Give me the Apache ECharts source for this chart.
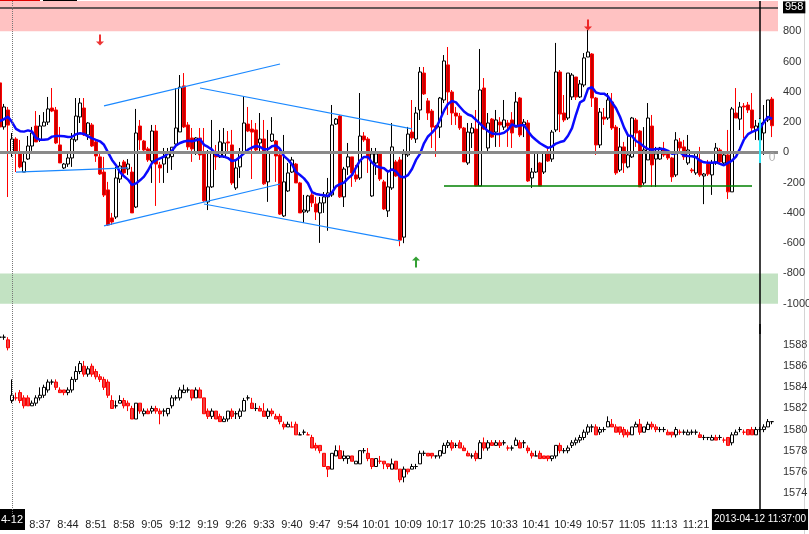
<!DOCTYPE html>
<html><head><meta charset="utf-8">
<script src="https://cdn.jsdelivr.net/npm/echarts@6/dist/echarts.min.js"></script>
<style>html,body{margin:0;padding:0;background:#fff;overflow:hidden}#c{width:809px;height:534px}</style>
</head><body><div id="c"></div>
<script>
// ---------- categories ----------
const prevDayTimes = ['15:12','15:13','15:14'];
const categories = prevDayTimes.slice();
for (let m = 8 * 60 + 30; m <= 11 * 60 + 41; m++) {
  categories.push(Math.floor(m / 60) + ':' + String(m % 60).padStart(2, '0'));
}
const tickLabels = ['8:37','8:44','8:51','8:58','9:05','9:12','9:19','9:26','9:33','9:40','9:47','9:54','10:01',
  '10:09','10:17','10:25','10:33','10:41','10:49','10:57','11:05','11:13','11:21'];
const dayStart = '8:30';
const dayLabel = '4-12';
const cursorTime = '11:37';
const cursorLabel = '2013-04-12 11:37:00';

// ---------- upper panel (breadth indicator) [open, close, low, high] ----------
const upperOHLC = [
 [459,168,160,480],[168,300,150,320],[280,180,-295,300],
 [-4,88,-30,128],[88,-4,-130,100],[3,-96,-105,82],[-130,-63,-130,-4],[-44,42,-50,108],
 [42,128,10,168],[174,69,69,273],[82,174,69,247],[174,200,174,266],[200,287,181,366],
 [293,273,266,425],[280,62,55,300],[49,-70,-70,168],[-103,-77,-110,-70],[-77,-37,-96,3],
 [-37,88,-96,128],[82,240,69,359],[234,326,194,359],[293,115,108,359],[115,194,82,200],
 [181,42,36,194],[69,-24,-63,82],[-30,-143,-149,3],[-130,-282,-295,-30],[-248,-480,-486,-195],
 [-433,-460,-480,-400],[-427,-169,-440,-96],[-176,-90,-202,-63],[-63,-136,-149,-50],[-110,-77,-149,-44],
 [-130,-400,-400,-96],[-361,128,-368,287],[174,82,16,214],[75,16,3,82],[23,-50,-63,36],
 [-57,141,-202,181],[141,-77,-354,181],[-83,-103,-202,-63],[-77,-30,-202,29],[-37,-4,-136,29],
 [-28,34,-116,34],[55,161,49,425],[135,431,135,511],[439,168,161,524],[181,36,16,200],
 [95,23,-63,161],[-4,95,-17,101],[95,-17,-50,161],[-10,-320,-327,161],[-327,-228,-381,16],
 [-228,3,-235,214],[-4,-30,-116,49],[-30,69,-37,148],[-30,62,-37,161],[69,62,3,141],
 [49,-202,-215,148],[-235,-103,-248,-50],[-96,3,-169,29],[3,194,-4,372],[187,141,134,300],
 [154,134,-176,214],[148,16,3,194],[62,88,-4,260],[88,-208,-215,214],[-195,3,-327,148],
 [75,121,69,233],[75,-24,-195,82],[-17,-408,-414,36],[-420,-195,-427,115],[-255,-136,-262,-70],
 [-130,-50,-136,-30],[-77,-202,-202,-70],[-202,-400,-400,-195],[-394,-381,-466,-281],[-387,-288,-400,-281],
 [-281,-334,-361,-248],[-341,-394,-447,-294],[-400,-334,-598,-294],[-334,-294,-400,-262],[-294,-268,-518,-169],
 [-281,181,-294,313],[187,220,181,227],[240,-294,-301,247],[-294,-110,-361,-96],[-96,-30,-149,62],
 [-30,-136,-228,-30],[-149,-176,-195,-83],[-169,108,-182,392],[108,82,69,134],[88,-37,-136,101],
 [-288,-10,-294,29],[-70,-10,-149,29],[-10,-176,-189,-4],[-195,-374,-381,-182],[-387,-228,-427,-130],
 [-235,36,-248,194],[-63,-156,-162,-50],[-50,-580,-620,-30],[-560,-10,-600,20],[-17,121,-30,168],
 [134,95,82,346],[88,260,62,300],[280,531,214,564],[524,386,379,564],[340,260,214,359],
 [273,167,29,286],[174,161,-30,181],[167,359,95,366],[346,604,326,643],[578,399,247,696],
 [399,260,181,412],[260,240,181,300],[240,161,148,260],[161,-63,-63,168],[-70,134,-83,194],
 [128,161,29,194],[154,-222,-222,280],[-222,412,-222,683],[425,154,148,491],[29,194,-4,260],
 [220,101,95,227],[134,214,36,280],[200,181,36,233],[167,214,148,346],[194,174,36,214],
 [214,128,29,266],[167,333,167,399],[359,115,101,366],[181,200,101,220],[194,-189,-195,214],
 [-169,-130,-235,-103],[-130,-4,-136,3],[-70,-222,-222,-63],[-130,-4,-143,3],[-4,-57,-63,29],
 [-44,134,-63,148],[148,531,134,723],[531,253,134,544],[260,214,200,379],[227,524,214,524],
 [366,511,346,524],[498,366,346,498],[366,452,359,478],[445,624,431,656],[630,663,630,809],
 [650,359,300,656],[359,49,-17,366],[49,266,29,293],[233,220,181,293],[227,346,214,392],
 [333,161,148,392],[167,-136,-149,181],[-117,36,-130,161],[36,-70,-136,69],[-96,-17,-105,115],
 [-30,227,-37,234],[214,128,36,227],[141,-228,-228,148],[-202,16,-215,167],[-50,227,-50,326],
 [174,-83,-228,247],[-44,-10,-228,36],[-44,29,-50,36],[16,-17,-30,69],[-4,-37,-50,3],
 [-37,-162,-195,-30],[-149,82,-162,134],[69,29,3,95],[36,-30,-50,82],[-70,16,-83,115],
 [-116,-122,-136,-103],[-136,-4,-149,3],[-50,-149,-162,36],[-156,-143,-342,-136],[-77,-143,-156,-50],
 [-149,-70,-281,-50],[-70,29,-83,62],[16,-63,-70,29],[-70,-17,-83,3],[-17,-261,-308,148],
 [-261,287,-261,300],[260,227,227,425],[220,300,148,333],[306,300,95,326],[313,280,260,333],
 [280,161,134,392],[148,174,82,214],[82,194,-4,227],[128,200,-17,313],[214,346,200,346],
 [352,176,101,366]
];
const upperMA = [
 207,220,236,
 200,155,140,137,145,138,95,84,84,87,
 104,108,108,106,101,103,120,126,122,106,
 92,82,73,50,0,-50,-85,-130,-158,-180,
 -215,-205,-185,-160,-120,-70,-52,-40,-28,-8,
 10,45,62,72,77,73,80,87,50,36,
 18,-15,-25,-28,-38,-58,-50,-30,-6,18,
 32,42,36,20,20,40,45,22,-25,-48,
 -80,-130,-150,-172,-205,-262,-275,-280,-283,-288,
 -265,-225,-210,-200,-172,-150,-100,-55,-30,-30,
 -68,-90,-100,-105,-128,-112,-125,-160,-165,-150,
 -110,-50,-10,60,105,130,160,215,275,320,
 340,330,300,270,250,240,215,190,165,140,
 125,122,122,130,150,185,172,178,180,140,
 105,82,60,45,30,38,58,68,75,110,
 160,250,330,345,420,430,395,388,388,370,
 330,292,235,165,112,108,75,60,38,22,
 17,22,22,22,10,-10,-6,0,-20,-24,
 -26,-32,-55,-66,-68,-68,-65,-76,-85,-70,
 -55,-28,25,85,120,135,145,160,200,235,
 221
];
const upperHighLine = 958;
const upperBands = [[800, 1000], [-1000, -800]];
const channelLines = [
  [['8:31', -130], ['8:59', -103]],
  [['8:53', 307], ['9:37', 584]],
  [['8:53', -486], ['9:37', -209]],
  [['9:17', 425], ['10:10', 155]],
  [['9:18', -341], ['10:07', -585]]
];
const supportLine = [['10:18', -222], ['11:35', -222]];
const cursorBar = [['11:37', 220], ['11:37', -70]];
const downArrows = [['8:52', 742], ['10:54', 842]];
const upArrows = [['10:11', -724]];
const zeroTag = [['11:40', -37]];

// ---------- lower panel (price) [open, close, low, high] ----------
const priceOHLC = [
 [1588.75,1588.75,1588.5,1589],[1588.75,1588.75,1588.5,1589],[1588.5,1587.75,1587.5,1588.75],
 [1582.75,1583.25,1582.5,1584.75],[1583,1583,1582.75,1583.5],[1583.5,1582.75,1582.5,1583.75],[1583,1582.25,1582,1583.25],[1583,1582.25,1582.25,1583.25],
 [1582.25,1582.5,1582.25,1582.75],[1582.5,1583,1582.25,1583.25],[1583,1583.25,1582.75,1584],[1583.25,1584,1583,1584.25],[1583.75,1584.5,1583.5,1584.75],
 [1584.5,1584.5,1584.25,1584.75],[1584.5,1584,1583.75,1584.75],[1583.75,1583.5,1583.5,1584],[1583.75,1583.5,1583.25,1583.75],[1583.5,1583.75,1583.25,1584],
 [1583.75,1584.75,1583.5,1585],[1584.75,1585.5,1584.5,1586],[1585.5,1586.25,1585.25,1586.5],[1586,1585.25,1585,1586.5],[1585.25,1585.75,1585,1586],
 [1586,1585.25,1585,1586.25],[1585.5,1585,1584.75,1585.75],[1585,1584.75,1584.5,1585.25],[1584.75,1584,1583.75,1585],[1584.5,1583.25,1583,1584.75],
 [1582.75,1582,1582,1583.25],[1582.25,1582.25,1582,1582.75],[1582.5,1582.75,1582.5,1583.25],[1582.75,1582.25,1582,1583],[1582.5,1582.25,1581.75,1582.75],
 [1582,1581,1581,1582.25],[1581,1582.5,1581,1582.5],[1582.5,1581.75,1581.5,1582.5],[1581.5,1581.75,1581.25,1582],[1581.75,1581.5,1581.5,1582],
 [1581.75,1582,1581.5,1582.25],[1582,1581.75,1581.5,1582.25],[1581.75,1581.5,1580.5,1582],[1581.75,1581.75,1581.25,1582],[1581.5,1582,1581.25,1582],
 [1582.25,1583,1582,1583.25],[1583,1583,1582.75,1583.25],[1583,1583.75,1582.75,1584],[1583.5,1583.75,1583.5,1584.25],[1583.75,1583.75,1583.5,1584],
 [1583.75,1583,1582.75,1583.75],[1583,1583.75,1583,1584],[1583.75,1583,1583,1584],[1583,1581.5,1581.5,1583],[1581.75,1581.25,1581,1582],
 [1581.25,1581.75,1581,1582],[1581.75,1581,1581,1581.75],[1581.25,1580.75,1580.75,1581.5],[1580.75,1581,1580.75,1581.25],[1581,1581.75,1580.75,1581.75],
 [1581.75,1581.25,1581,1582],[1581.5,1581.5,1581,1581.75],[1581.25,1581.75,1581,1582],[1581.75,1582.75,1581.75,1583],[1583,1583,1582.75,1583.25],
 [1582.5,1582,1582,1583],[1582,1582,1581.75,1582.5],[1582,1581.75,1581.75,1582.25],[1581.75,1581.25,1581.25,1582.5],[1581.25,1581.75,1581,1582],
 [1581.75,1581.5,1581.25,1582],[1581.25,1581,1581,1581.5],[1581.25,1580.75,1580.5,1581.5],[1580.5,1580.25,1580,1580.75],[1580.25,1580.5,1580.25,1580.75],
 [1580.25,1580.25,1580.25,1580.75],[1580.5,1579.5,1579.5,1580.75],[1579.5,1579.5,1579.5,1579.75],[1579.75,1579.75,1579.5,1580],[1579.5,1579.5,1579.5,1579.75],
 [1579.25,1578.25,1578.25,1579.5],[1578.5,1578.25,1578,1578.75],[1578.5,1578,1577.75,1578.5],[1577.75,1576.5,1576.5,1577.75],[1576.5,1576.25,1575.5,1576.5],
 [1576.25,1577.75,1576.25,1577.75],[1577.5,1578,1577.5,1578.5],[1578,1577.25,1577.25,1578.5],[1577.25,1577.5,1577,1578],[1577.25,1577.5,1576.75,1577.5],
 [1577.5,1577,1577,1577.5],[1576.75,1577,1576.75,1577],[1576.75,1578,1576.75,1578],[1578,1578,1577.75,1578.25],[1577.75,1577.25,1577,1578.25],
 [1577.25,1576.5,1576.25,1577.25],[1576.5,1577.25,1576.5,1577.25],[1577,1577,1576.75,1577.5],[1577,1576.75,1576.25,1577],[1576.75,1576.5,1576.25,1576.75],
 [1576.25,1576.75,1576.25,1577.25],[1577,1576.25,1576.25,1577],[1576.25,1575.25,1575,1576.25],[1575.5,1576.25,1575,1576.5],[1576.25,1576,1575.75,1576.25],
 [1576.25,1576.5,1576.25,1576.75],[1576.5,1576.5,1576.25,1576.75],[1576.75,1577.75,1576.75,1578],[1577.75,1577.75,1577.5,1578],[1577.75,1577.5,1577.5,1577.75],
 [1577.75,1577.5,1577.25,1577.75],[1577.5,1577.5,1577.25,1577.5],[1577.5,1578,1577.25,1578],[1577.75,1578.5,1577.75,1578.75],[1578.5,1578.75,1578.25,1579],
 [1578.75,1578.25,1578,1579],[1578.5,1578.5,1578.25,1578.75],[1578.75,1578.25,1578.25,1579],[1578.25,1578,1578,1578.5],[1577.75,1577.5,1577.5,1578],
 [1577.5,1577.5,1577.25,1577.75],[1577.75,1577.25,1577,1578],[1577.25,1578.75,1577.25,1579],[1578.75,1578.25,1578,1579.25],[1578.25,1578.75,1578,1579],
 [1578.75,1578.5,1578.5,1579],[1578.5,1578.75,1578.5,1579],[1578.75,1578.5,1578.25,1579],[1578.75,1578.75,1578.5,1579],[1578.25,1578.25,1578,1578.5],
 [1578.25,1578.25,1578,1578.5],[1578.5,1579,1578.5,1579.25],[1578.75,1578.25,1578.25,1579],[1578.75,1578.75,1578.25,1579],[1578.25,1578,1577.75,1578.5],
 [1577.75,1577.5,1577.25,1578],[1577.5,1577.5,1577.5,1578],[1577.75,1577.25,1577.25,1578],[1577.5,1577.25,1577.25,1577.5],[1577.5,1577.25,1577,1577.5],
 [1577.25,1577.5,1577,1577.5],[1577.5,1578.5,1577.25,1578.5],[1578.5,1578,1577.75,1578.75],[1578,1578,1577.75,1578.25],[1578,1578.25,1577.75,1578.5],
 [1578.5,1578.75,1578.25,1579],[1578.75,1579,1578.5,1579.25],[1579,1579.25,1578.75,1579.5],[1579.25,1579.75,1579,1580],[1579.75,1580.25,1579.5,1580.5],
 [1580.25,1580.25,1579.75,1580.5],[1580.25,1579.5,1579.5,1580.5],[1579.75,1580,1579.5,1580.25],[1580,1580,1579.75,1580.25],[1580.25,1580.75,1580.25,1581.25],
 [1580.5,1580.25,1580.25,1581],[1580.25,1579.75,1579.75,1580.5],[1580.25,1579.75,1579.5,1580.25],[1580,1579.5,1579.25,1580.25],[1579.75,1579.5,1579.25,1580],
 [1579.5,1580.25,1579.5,1580.25],[1580.25,1580.5,1580.25,1580.75],[1580.5,1579.75,1579.5,1581],[1579.75,1580.25,1579.75,1580.25],[1580,1580.5,1580,1580.75],
 [1580.5,1580.25,1580,1580.75],[1580.25,1580,1579.75,1580.5],[1580,1580,1579.75,1580.25],[1580,1580,1579.75,1580.25],[1579.75,1579.5,1579.5,1580],
 [1579.75,1579.5,1579.25,1579.75],[1579.5,1580,1579.25,1580.25],[1579.75,1579.75,1579.5,1580],[1579.75,1579.75,1579.5,1580],[1579.5,1579.75,1579.5,1580],
 [1579.75,1579.75,1579.5,1580],[1579.75,1579.75,1579.5,1580],[1579.5,1579.25,1579.25,1579.75],[1579.25,1579.25,1579,1579.5],[1579.25,1579.25,1579,1579.25],
 [1579,1579.25,1579,1579.5],[1579.25,1579,1579,1579.5],[1579.25,1579.25,1579,1579.5],[1579,1579,1578.75,1579.25],[1579.25,1578.5,1578.5,1579.25],
 [1578.75,1579.5,1578.5,1579.75],[1579.5,1579.75,1579.5,1580],[1580,1580,1579.75,1580.25],[1579.75,1579.75,1579.5,1580],[1580,1579.5,1579.5,1580],
 [1580,1579.5,1579.5,1580.25],[1579.5,1580,1579.5,1580.25],[1580,1580,1579.75,1580.25],[1580,1580.25,1579.75,1580.5],[1580.25,1580.75,1580.25,1581],
 [1580.75,1580.75,1580.5,1580.75]
];

// ---------- chart ----------
const FONT = "'Liberation Sans',Arial,sans-serif";
const lastUpper = upperOHLC[upperOHLC.length - 1][1];
const lastMA = upperMA[upperMA.length - 1];
const lastPrice = priceOHLC[priceOHLC.length - 1][1];
const upperCandleStyle = { color: '#ffffff', color0: '#c40000', borderColor: '#000000', borderColor0: '#ff0000', borderWidth: 1 };
const lowerCandleStyle = { color: '#ffffff', color0: '#f04040', borderColor: '#000000', borderColor0: '#ff0000', borderWidth: 1 };
const tagLabel = (txt, bg) => ({ show: true, position: 'end', distance: 5, formatter: txt, color: '#fff',
  backgroundColor: bg, padding: [1, 2, 0, 2], fontSize: 11, fontFamily: FONT });
const hidden = { show: false };

const chart = echarts.init(document.getElementById('c'), null, { renderer: 'canvas' });
chart.setOption({
  animation: false,
  backgroundColor: '#ffffff',
  textStyle: { fontFamily: FONT },
  grid: [
    { left: -2, top: 1, width: 780, height: 333, outerBoundsMode: 'none', containLabel: false },
    { left: -2, top: 324, width: 780, height: 190, outerBoundsMode: 'none', containLabel: false }
  ],
  xAxis: [
    { type: 'category', gridIndex: 0, data: categories, boundaryGap: true,
      axisLine: hidden, axisTick: hidden, axisLabel: hidden, splitLine: hidden },
    { type: 'category', gridIndex: 1, data: categories, boundaryGap: true,
      axisLine: hidden, axisTick: hidden, splitLine: hidden,
      axisLabel: {
        margin: 0, color: '#222', fontSize: 11, lineHeight: 21, fontFamily: FONT, hideOverlap: false,
        showMinLabel: true, showMaxLabel: true,
        interval: (i, v) => tickLabels.includes(v) || v === dayStart || v === cursorTime,
        formatter: v => v === dayStart ? '{box|' + dayLabel + '}' : (v === cursorTime ? '{wide|' + cursorLabel + '}' : v),
        rich: {
          box: { backgroundColor: '#000', color: '#fff', fontSize: 11, padding: [5, 2, 5, 2], lineHeight: 11, fontFamily: FONT },
          wide: { backgroundColor: '#000', color: '#fff', fontSize: 10, padding: [5, 2, 6, 2], lineHeight: 11, fontFamily: FONT }
        }
      } }
  ],
  yAxis: [
    { type: 'value', gridIndex: 0, position: 'right', min: -1200, max: 1000, interval: 200,
      axisLine: hidden, axisTick: hidden, splitLine: hidden,
      axisLabel: { margin: 5, color: '#333', fontSize: 11, fontFamily: FONT,
        formatter: v => (v >= 1000 || v <= -1200) ? '' : String(v) } },
    { type: 'value', gridIndex: 1, position: 'right', min: 1572, max: 1590, interval: 2,
      axisLine: hidden, axisTick: hidden, splitLine: hidden,
      axisLabel: { margin: 5, color: '#333', fontSize: 11, fontFamily: FONT,
        formatter: v => (v >= 1590 || v <= 1572) ? '' : String(v) } }
  ],
  series: [
    { type: 'line', xAxisIndex: 0, yAxisIndex: 0, data: [], z: 0, silent: true,
      markArea: { silent: true, data: [
        [{ yAxis: upperBands[0][0], itemStyle: { color: '#ffc2c2' } }, { yAxis: upperBands[0][1] }],
        [{ yAxis: upperBands[1][0], itemStyle: { color: '#c2e2c2' } }, { yAxis: upperBands[1][1] }]
      ] },
      markLine: { silent: true, symbol: 'none', data: [
        { yAxis: 0, lineStyle: { color: '#8a8a8a', width: 3, type: 'solid' }, label: hidden },
        { yAxis: upperHighLine, lineStyle: { color: '#333', width: 1.5, type: 'solid' }, label: tagLabel(String(upperHighLine), '#000') },
        { xAxis: dayStart, lineStyle: { color: '#777', width: 1, type: 'dotted' }, label: hidden }
      ] } },
    { type: 'candlestick', xAxisIndex: 0, yAxisIndex: 0, data: upperOHLC, barWidth: 3, z: 2,
      itemStyle: upperCandleStyle, silent: true },
    { type: 'line', xAxisIndex: 0, yAxisIndex: 0, data: upperMA, symbol: 'none', z: 4, silent: true,
      lineStyle: { color: '#0a0aff', width: 2.5 },
      markLine: { silent: true, symbol: 'none', data: [
        { yAxis: lastMA, lineStyle: { opacity: 0 }, label: tagLabel(String(lastMA), '#0000ff') },
        { yAxis: lastUpper, lineStyle: { opacity: 0 }, label: tagLabel(String(lastUpper), '#000') }
      ] } },
    ...channelLines.map(seg => ({ type: 'line', xAxisIndex: 0, yAxisIndex: 0, data: seg, symbol: 'none', z: 5, silent: true,
      lineStyle: { color: '#1a88ff', width: 1.2 } })),
    { type: 'line', xAxisIndex: 0, yAxisIndex: 0, data: supportLine, symbol: 'none', z: 5, silent: true,
      lineStyle: { color: '#008000', width: 1.5 } },
    { type: 'line', xAxisIndex: 0, yAxisIndex: 0, data: cursorBar, symbol: 'none', z: 6, silent: true,
      lineStyle: { color: '#2fe6f5', width: 2 },
      markLine: { silent: true, symbol: 'none', data: [
        { xAxis: cursorTime, lineStyle: { color: '#000', width: 1.5, type: 'solid' }, label: hidden }
      ] } },
    { type: 'scatter', xAxisIndex: 0, yAxisIndex: 0, data: downArrows, z: 6, silent: true,
      symbol: 'path://M3,0H5V7H8L4,11L0,7H3Z', symbolSize: [8, 11], itemStyle: { color: '#e80000' } },
    { type: 'scatter', xAxisIndex: 0, yAxisIndex: 0, data: upArrows, z: 6, silent: true,
      symbol: 'path://M4,0L8,4H5V11H3V4H0Z', symbolSize: [8, 11], itemStyle: { color: '#008800' } },
    { type: 'scatter', xAxisIndex: 0, yAxisIndex: 0, data: zeroTag, z: 6, silent: true, symbolSize: 0,
      label: { show: true, position: 'inside', formatter: '0', color: '#a0a0a0', fontSize: 12, fontFamily: FONT } },
    { type: 'candlestick', xAxisIndex: 1, yAxisIndex: 1, data: priceOHLC, barWidth: 3, z: 2,
      itemStyle: lowerCandleStyle, silent: true,
      markLine: { silent: true, symbol: 'none', data: [
        { xAxis: dayStart, lineStyle: { color: '#777', width: 1, type: 'dotted' }, label: hidden },
        { xAxis: cursorTime, lineStyle: { color: '#000', width: 1.5, type: 'solid' }, label: hidden },
        { yAxis: lastPrice, lineStyle: { opacity: 0 }, label: Object.assign(tagLabel(String(Math.floor(lastPrice)), '#000'), { fontSize: 12, padding: [2, 2, 1, 2] }) }
      ] } }
  ],
  graphic: [
    { type: 'rect', shape: { x: 0, y: 0, width: 40, height: 1.5 }, style: { fill: '#e00000' }, silent: true },
    { type: 'rect', shape: { x: 43, y: 0, width: 34, height: 1.5 }, style: { fill: '#000' }, silent: true },
    { type: 'line', shape: { x1: 804.5, y1: 0, x2: 804.5, y2: 534 }, style: { stroke: '#d4d4d4', lineWidth: 1 }, silent: true }
  ]
});
</script>
</body></html>
